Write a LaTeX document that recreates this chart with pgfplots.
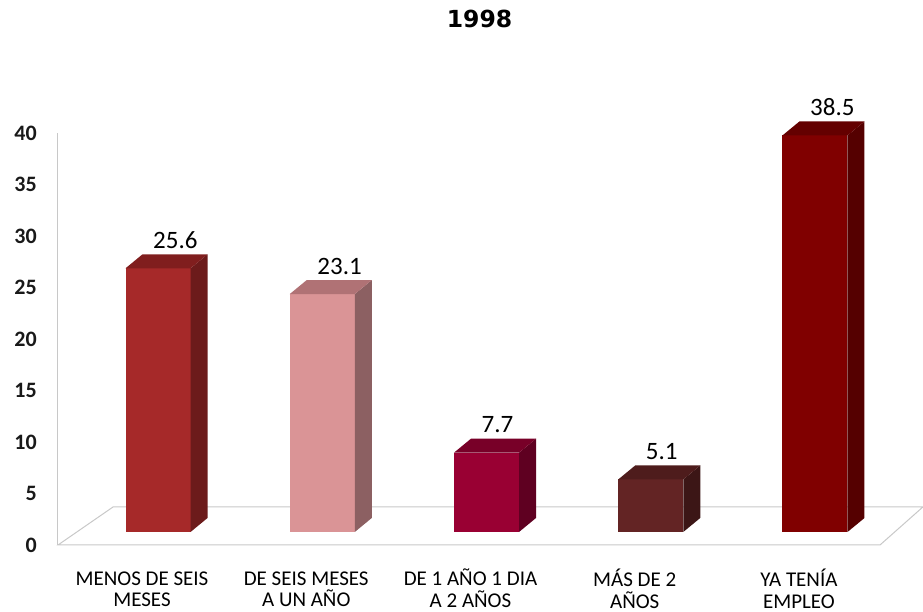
\documentclass[border=0pt]{standalone}
\usepackage{fontspec}
\setmainfont{Carlito}
\newfontfamily\titlefont{DejaVu Sans}
\usepackage{pgfplots}
\pgfplotsset{compat=1.18}
\definecolor{fA}{RGB}{166,41,41}\definecolor{sA}{RGB}{108,27,27}\definecolor{tA}{RGB}{128,30,30}
\definecolor{fB}{RGB}{218,148,150}\definecolor{sB}{RGB}{140,96,98}\definecolor{tB}{RGB}{176,114,117}
\definecolor{fC}{RGB}{153,0,51}\definecolor{sC}{RGB}{95,0,33}\definecolor{tC}{RGB}{120,0,40}
\definecolor{fD}{RGB}{99,36,36}\definecolor{sD}{RGB}{60,22,22}\definecolor{tD}{RGB}{78,28,28}
\definecolor{fE}{RGB}{128,0,0}\definecolor{sE}{RGB}{85,0,0}\definecolor{tE}{RGB}{100,0,0}
\definecolor{floorgray}{RGB}{200,200,200}
\pgfplotsset{
  front/.style={ybar, bar width=0.396, bar shift=0pt, draw=none, fill=#1, yshift=13pt,
    nodes near coords, point meta=explicit symbolic,
    nodes near coords style={anchor=base west, xshift=-5pt, yshift=20pt, inner sep=0pt,
      font=\fontsize{25}{27}\selectfont, text=black}},
  face/.style={draw=none, fill=#1, yshift=13pt},
}
\begin{document}
\begin{tikzpicture}[x=1pt,y=1pt]
\useasboundingbox (0,0) rectangle (923,612);
\node[font=\titlefont\fontsize{23.5}{25}\selectfont\bfseries, anchor=base] at (479.5,584) {1998};
\begin{axis}[
  at={(58pt,67pt)}, anchor=south west,
  scale only axis, width=822pt, height=412pt,
  xmin=-0.609, xmax=4.396, ymin=0, ymax=40,
  clip=false,
  axis x line=none,
  axis y line*=left,
  y axis line style={floorgray, line width=1pt, -},
  ytick={0,5,...,40},
  major tick length=0pt,
  /pgf/number format/assume math mode=true,
  yticklabel style={font=\fontsize{22}{24}\selectfont\bfseries, inner sep=0pt, xshift=-21pt, text=black!90},
]
% floor
\addplot[floorgray, line width=1pt, mark=none] coordinates {(-0.609,0) (4.396,0) (4.657,3.69) (-0.274,3.69)} -- cycle;
% category labels
\addplot[draw=none, mark=none, nodes near coords, point meta=explicit symbolic,
  nodes near coords style={anchor=north, align=center, inner sep=0pt, xshift=-16pt, yshift=-24pt,
   font=\fontsize{21}{21.5}\selectfont, text=black}]
  coordinates {(0,0)[{\rule{0pt}{16pt}MENOS DE SEIS\\MESES}] (1,0)[{\rule{0pt}{16pt}DE SEIS MESES\\A UN AÑO}] (2,0)[{\rule{0pt}{16pt}DE 1 AÑO 1 DIA\\A 2 AÑOS}] (3,0)[{\rule{0pt}{16pt}MÁS DE 2\\AÑOS}] (4,0)[{\rule{0pt}{16pt}YA TENÍA\\EMPLEO}]};
% bar 1
\addplot[front=fA] coordinates {(0,25.6)[25.6]};
\addplot[face=sA] coordinates {(0.198,0) (0.3015,1.36) (0.3015,26.96) (0.198,25.6)} -- cycle;
\addplot[face=tA] coordinates {(-0.198,25.6) (0.198,25.6) (0.3015,26.96) (-0.0945,26.96)} -- cycle;
% bar 2
\addplot[front=fB] coordinates {(1,23.1)[23.1]};
\addplot[face=sB] coordinates {(1.198,0) (1.3015,1.36) (1.3015,24.46) (1.198,23.1)} -- cycle;
\addplot[face=tB] coordinates {(0.802,23.1) (1.198,23.1) (1.3015,24.46) (0.9055,24.46)} -- cycle;
% bar 3
\addplot[front=fC] coordinates {(2,7.7)[7.7]};
\addplot[face=sC] coordinates {(2.198,0) (2.3015,1.36) (2.3015,9.06) (2.198,7.7)} -- cycle;
\addplot[face=tC] coordinates {(1.802,7.7) (2.198,7.7) (2.3015,9.06) (1.9055,9.06)} -- cycle;
% bar 4
\addplot[front=fD] coordinates {(3,5.1)[5.1]};
\addplot[face=sD] coordinates {(3.198,0) (3.3015,1.36) (3.3015,6.46) (3.198,5.1)} -- cycle;
\addplot[face=tD] coordinates {(2.802,5.1) (3.198,5.1) (3.3015,6.46) (2.9055,6.46)} -- cycle;
% bar 5
\addplot[front=fE] coordinates {(4,38.5)[38.5]};
\addplot[face=sE] coordinates {(4.198,0) (4.3015,1.36) (4.3015,39.86) (4.198,38.5)} -- cycle;
\addplot[face=tE] coordinates {(3.802,38.5) (4.198,38.5) (4.3015,39.86) (3.9055,39.86)} -- cycle;
\end{axis}
\end{tikzpicture}
\end{document}
